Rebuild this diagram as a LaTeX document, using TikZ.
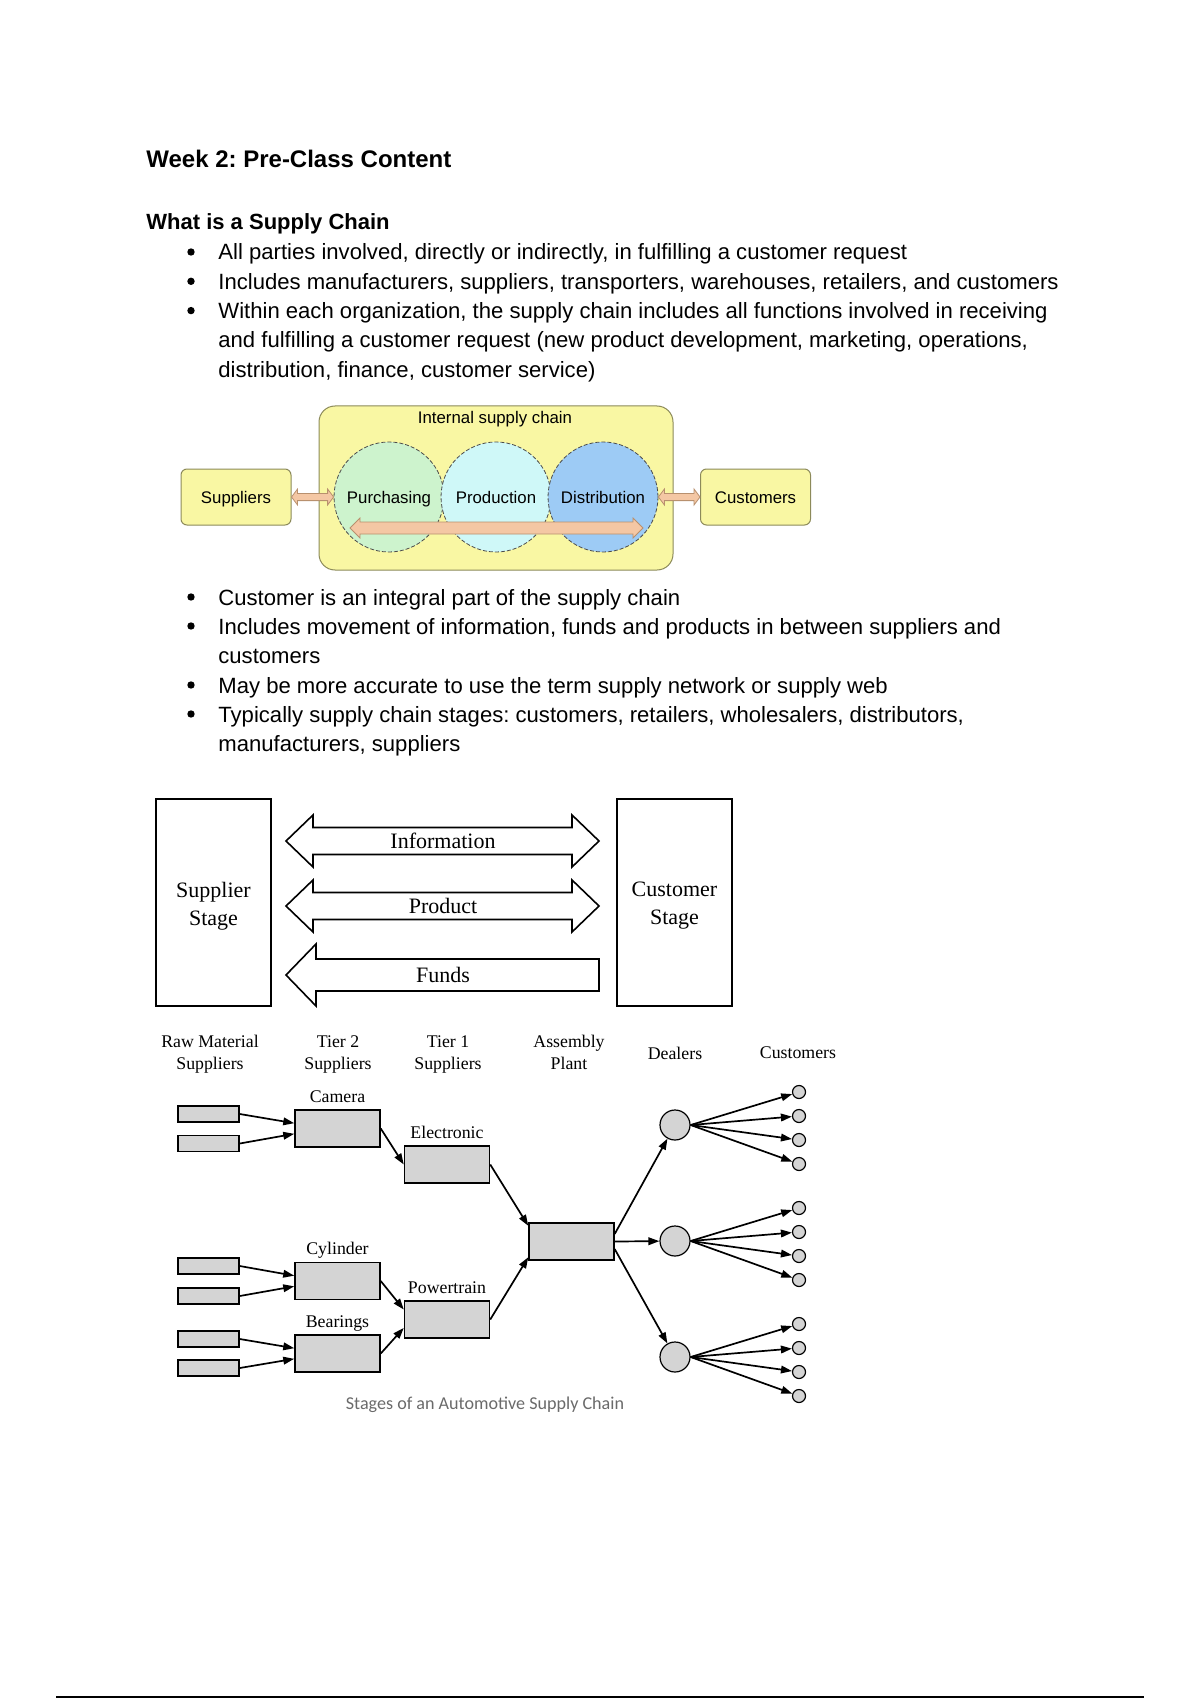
\documentclass[tikz,border=0pt]{standalone}
\usepackage{fontspec}
\setmainfont{Liberation Sans}
\newfontfamily\timesfont{Liberation Serif}
\newfontfamily\calfont{Carlito}
\usetikzlibrary{calc,positioning,arrows.meta}
\frenchspacing

\definecolor{iscyellow}{HTML}{F9F7A3}
\definecolor{iscedge}{HTML}{8C8A5A}
\definecolor{purgreen}{HTML}{CDF3CD}
\definecolor{procyan}{HTML}{CFF8F8}
\definecolor{disblue}{HTML}{9DCBF5}
\definecolor{flowpeach}{HTML}{F4C7A4}
\definecolor{flowedge}{HTML}{B8906E}
\definecolor{partgray}{HTML}{D4D4D4}
\definecolor{captiongray}{HTML}{6A6A6A}

\begin{document}
\begin{tikzpicture}[x=0.5pt,y=-0.5pt,
    body/.style={anchor=base west, inner sep=0pt, font=\fontsize{11.05}{13}\selectfont},
    dot/.style={circle, fill, inner sep=0pt, minimum size=3.7pt},
    iscbox/.style={draw=iscedge, fill=iscyellow, rounded corners=8pt, line width=0.5pt,
        minimum width=177pt, minimum height=82pt},
    endbox/.style={draw=iscedge, fill=iscyellow, rounded corners=3pt, line width=0.5pt,
        minimum width=55pt, minimum height=28pt, text height=7pt, text depth=1pt,
        font=\fontsize{8.4}{10}\selectfont},
    func/.style={circle, draw=black!70, dash pattern=on 2pt off 1pt, line width=0.4pt,
        minimum size=55pt, inner sep=0pt, text height=7pt, text depth=1pt,
        font=\fontsize{8.4}{10}\selectfont},
    peach/.style={fill=flowpeach, draw=flowedge, line width=0.4pt},
    stagebox/.style={draw, line width=0.9pt, minimum width=57.5pt, minimum height=103.5pt},
    flowtxt/.style={inner sep=0pt, font=\timesfont\fontsize{11}{13}\selectfont},
    block/.style={draw, fill=white, line width=0.8pt, line join=miter},
    hdr/.style={align=center, inner sep=0pt, font=\timesfont\fontsize{8.9}{11}\selectfont},
    lbl/.style={inner sep=0pt, text depth=0pt, font=\timesfont\fontsize{8.9}{11}\selectfont},
    rawbox/.style={draw, fill=partgray, line width=0.75pt, inner sep=0pt,
        minimum width=30.5pt, minimum height=8pt},
    partbox/.style={draw, fill=partgray, line width=0.75pt, inner sep=0pt,
        minimum width=42.5pt, minimum height=18.5pt},
    dealer/.style={circle, draw, fill=partgray, line width=0.6pt, inner sep=0pt, minimum size=15pt},
    cust/.style={circle, draw, fill=partgray, line width=0.6pt, inner sep=0pt, minimum size=6.5pt},
    conn/.style={-{Triangle[length=5.5pt,width=3.8pt]}, line width=0.85pt}
]

    % page
    \useasboundingbox (0,0) rectangle (1200,1700);

    % block arrows: style, left end, right end, shaft half, head half, head length
    \def\dblarrow#1#2#3#4#5#6{%
        \draw[#1] let \p1=(#2), \p2=(#3) in
            (\x1,\y1) -- (\x1+#6,\y1+#5) -- (\x1+#6,\y1+#4) -- (\x2-#6,\y1+#4)
            -- (\x2-#6,\y1+#5) -- (\x2,\y1) -- (\x2-#6,\y1-#5) -- (\x2-#6,\y1-#4)
            -- (\x1+#6,\y1-#4) -- (\x1+#6,\y1-#5) -- cycle;}
    \def\leftarrowblk#1#2#3#4#5#6{%
        \draw[#1] let \p1=(#2), \p2=(#3) in
            (\x1,\y1) -- (\x1+#6,\y1+#5) -- (\x1+#6,\y1+#4) -- (\x2,\y1+#4)
            -- (\x2,\y1-#4) -- (\x1+#6,\y1-#4) -- (\x1+#6,\y1-#5) -- cycle;}

    % headings
    \node[anchor=base west, inner sep=0pt, font=\bfseries\fontsize{12}{14}\selectfont] (title) at (146,168) {Week 2: Pre-Class Content};
    \node[anchor=base west, inner sep=0pt, font=\bfseries\fontsize{11}{13}\selectfont] (sub) at (146,230) {What is a Supply Chain};

    % first bullet list
    \node[body] (l1) at (218,260) {All parties involved, directly or indirectly, in fulfilling a customer request};
    \node[body] (l2) at (218,289.3) {Includes manufacturers, suppliers, transporters, warehouses, retailers, and customers};
    \node[body] (l3) at (218,318.6) {Within each organization, the supply chain includes all functions involved in receiving};
    \node[body] (l4) at (218,348) {and fulfilling a customer request (new product development, marketing, operations,};
    \node[body] (l5) at (218,377.2) {distribution, finance, customer service)};
    \node[dot] (b1) at (191,252) {};
    \node[dot] (b2) at (191,281.3) {};
    \node[dot] (b3) at (191,310.6) {};

    % internal supply chain
    \node[iscbox] (isc) at (496,488) {};
    \node[inner sep=0pt, font=\fontsize{8.4}{10}\selectfont] (isclbl) at (495,419) {Internal supply chain};
    \node[endbox] (sup) at (236,497) {Suppliers};
    \node[endbox] (cus) at (755.5,497) {Customers};
    \node[func, fill=purgreen] (pur) at (389,497) {Purchasing};
    \node[func, fill=procyan] (pro) at (496,497) {Production};
    \node[func, fill=disblue] (dis) at (603,497) {Distribution};
    \coordinate (flowL) at (350,528);
    \coordinate (flowR) at (643,528);
    \dblarrow{peach}{sup.east}{pur.west}{1.8pt}{4pt}{3pt}
    \dblarrow{peach}{dis.east}{cus.west}{1.8pt}{4pt}{3pt}
    \dblarrow{peach}{flowL}{flowR}{3pt}{5pt}{5pt}

    % second bullet list
    \node[body] (m1) at (218,605) {Customer is an integral part of the supply chain};
    \node[body] (m2) at (218,634) {Includes movement of information, funds and products in between suppliers and};
    \node[body] (m3) at (218,663) {customers};
    \node[body] (m4) at (218,693) {May be more accurate to use the term supply network or supply web};
    \node[body] (m5) at (218,722) {Typically supply chain stages: customers, retailers, wholesalers, distributors,};
    \node[body] (m6) at (218,751) {manufacturers, suppliers};
    \node[dot] (b4) at (191,597) {};
    \node[dot] (b5) at (191,626) {};
    \node[dot] (b6) at (191,685) {};
    \node[dot] (b7) at (191,714) {};

    % supplier / customer stages
    \node[stagebox] (sstage) at (213.5,902.5) {};
    \node[stagebox] (cstage) at (674.5,902.5) {};
    \node[flowtxt, align=center, font=\timesfont\fontsize{11}{14}\selectfont] (stxt) at (213.5,906) {Supplier\\Stage};
    \node[flowtxt, align=center, font=\timesfont\fontsize{11}{14}\selectfont] (ctxt) at (674.5,906) {Customer\\Stage};
    \coordinate (infoL) at (286,841);
    \coordinate (infoR) at (599,841);
    \coordinate (prodL) at (286,906);
    \coordinate (prodR) at (599,906);
    \coordinate (fundL) at (286,975);
    \coordinate (fundR) at (599,975);
    \dblarrow{block}{infoL}{infoR}{6.75pt}{13pt}{13.5pt}
    \dblarrow{block}{prodL}{prodR}{6.75pt}{13pt}{13.5pt}
    \leftarrowblk{block}{fundL}{fundR}{8pt}{15.5pt}{15pt}
    \node[flowtxt] (info) at (443,841) {Information};
    \node[flowtxt] (prod) at (443,906) {Product};
    \node[flowtxt] (fund) at (443,975) {Funds};

    % automotive supply chain: column heads
    \node[hdr] (rawhdr) at (210,1054) {Raw Material\\Suppliers};
    \node[hdr] (t2hdr) at (338,1054) {Tier 2\\Suppliers};
    \node[hdr] (t1hdr) at (448,1054) {Tier 1\\Suppliers};
    \node[hdr] (asmhdr) at (569,1052) {Assembly\\Plant};
    \node[hdr] (dlrhdr) at (675,1053) {Dealers};
    \node[hdr] (cushdr) at (798,1053) {Customers};

    % raw material suppliers
    \node[rawbox] (rc1) at (208.5,1114) {};
    \node[rawbox] (rc2) at (208.5,1143.5) {};
    \node[rawbox] (ry1) at (208.5,1266) {};
    \node[rawbox] (ry2) at (208.5,1296) {};
    \node[rawbox] (rb1) at (208.5,1339) {};
    \node[rawbox] (rb2) at (208.5,1368) {};

    % tier 2, tier 1, assembly
    \node[partbox] (cam) at (337.5,1128.5) {};
    \node[partbox] (cyl) at (337.5,1281) {};
    \node[partbox] (bear) at (337.5,1353.5) {};
    \node[partbox] (elec) at (447,1164.5) {};
    \node[partbox] (pwr) at (447,1319.5) {};
    \node[partbox] (asm) at (571.5,1241.5) {};
    \node[lbl, above=3.4pt of cam] (camlbl) {Camera};
    \node[lbl, above=3.4pt of cyl] (cyllbl) {Cylinder};
    \node[lbl, above=3.4pt of bear] (bearlbl) {Bearings};
    \node[lbl, above=3.4pt of elec] (eleclbl) {Electronic};
    \node[lbl, above=3.4pt of pwr] (pwrlbl) {Powertrain};

    % dealers and customers
    \node[dealer] (d1) at (675,1125) {};
    \node[dealer] (d2) at (675,1241) {};
    \node[dealer] (d3) at (675,1357) {};
    \foreach \d in {1,2,3}
        \foreach [count=\k] \o in {-33,-9,15,39} {
            \node[cust] (c\d\k) at ($(d\d)+(124,\o)$) {};
            \draw[conn] (d\d.east) -- (c\d\k);
        }

    % flows
    \draw[conn] (rc1.east) -- (cam.173);
    \draw[conn] (rc2.east) -- (cam.187);
    \draw[conn] (ry1.east) -- (cyl.173);
    \draw[conn] (ry2.east) -- (cyl.187);
    \draw[conn] (rb1.east) -- (bear.173);
    \draw[conn] (rb2.east) -- (bear.187);
    \draw[conn] (cam.east) -- (elec.west);
    \draw[conn] (cyl.east) -- (pwr.167);
    \draw[conn] (bear.east) -- (pwr.191);
    \draw[conn] (elec.east) -- (asm.160);
    \draw[conn] (pwr.east) -- (asm.200);
    \draw[conn] (asm.10) -- (d1);
    \draw[conn] (asm.east) -- (d2);
    \draw[conn] (asm.350) -- (d3);

    \node[font=\calfont\fontsize{9.05}{10}\selectfont, text=captiongray, inner sep=0pt] (cap) at (485,1405) {Stages of an Automotive Supply Chain};

    % footer rule
    \draw[line width=1.3pt] (56,1697) -- (1144,1697);

\end{tikzpicture}
\end{document}
